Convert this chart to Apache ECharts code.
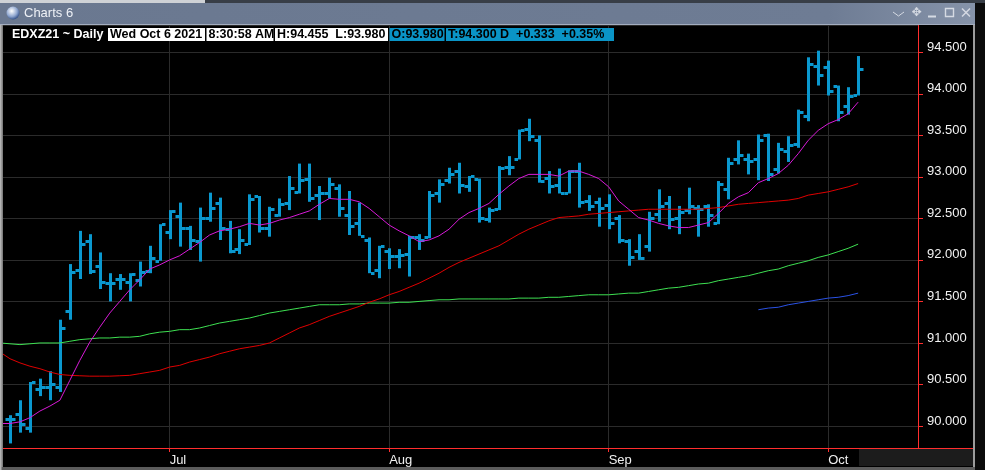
<!DOCTYPE html>
<html><head><meta charset="utf-8">
<script src="https://cdn.jsdelivr.net/npm/echarts@6/dist/echarts.min.js"></script>
<style>html,body{margin:0;padding:0;background:#000;overflow:hidden}#c{width:985px;height:470px}</style>
</head><body><div id="c"></div>
<script>
// ---- data ----
const startDate = '2021-06-09';           // first bar; one bar per weekday through 2021-10-06
const barCount = 86;
const opens = [90.09,90.14,89.97,90.45,90.47,90.47,91.38,91.88,92.23,91.93,
  91.72,91.77,91.73,91.76,91.87,91.99,92.34,92.53,92.39,92.23,
  92.51,92.69,92.37,92.13,92.19,92.77,92.38,92.54,92.69,92.82,
  92.97,92.78,92.80,92.87,92.54,92.45,92.24,91.88,92.11,92.05,
  92.07,92.28,92.27,92.81,92.96,93.07,92.89,92.97,92.49,92.61,
  93.12,93.22,93.58,93.45,92.99,92.90,92.81,93.07,92.71,92.70,
  92.66,92.51,92.23,92.11,92.17,92.55,92.69,92.51,92.60,92.62,
  92.65,92.45,92.86,93.22,93.22,93.22,93.50,93.09,93.31,93.40,
  93.73,94.34,94.32,94.09,93.85,93.98];
const highs = [90.13,90.31,90.53,90.57,90.66,91.28,91.95,92.35,92.31,92.09,
  91.84,91.83,91.84,91.98,92.17,92.43,92.60,92.69,92.41,92.63,
  92.81,92.75,92.47,92.37,92.79,92.77,92.64,92.74,93.01,93.16,
  93.16,92.89,92.99,92.91,92.83,92.69,92.27,92.17,92.14,92.13,
  92.29,92.31,92.83,92.97,93.11,93.17,93.01,92.98,92.63,93.13,
  93.25,93.57,93.70,93.50,93.07,93.10,93.08,93.17,92.78,92.75,
  92.79,92.54,92.25,92.31,92.58,92.85,92.77,92.65,92.87,92.66,
  92.67,92.95,93.23,93.44,93.28,93.51,93.52,93.41,93.49,93.81,
  94.44,94.52,94.40,94.10,94.08,94.455];
const lows = [89.79,89.92,89.92,90.36,90.31,90.41,91.28,91.77,91.83,91.65,
  91.50,91.64,91.50,91.68,91.84,91.99,92.25,92.16,92.12,91.98,
  92.46,92.24,92.08,92.07,92.18,92.33,92.28,92.52,92.60,92.80,
  92.70,92.48,92.74,92.52,92.30,92.29,91.84,91.78,91.89,91.90,
  91.80,92.12,92.26,92.69,92.92,92.80,92.82,92.45,92.45,92.60,
  93.02,93.21,93.43,92.93,92.80,92.80,92.80,92.63,92.59,92.40,
  92.37,92.20,91.93,92.00,92.10,92.46,92.37,92.31,92.55,92.28,
  92.40,92.43,92.73,93.15,93.03,92.96,92.95,93.04,93.18,93.35,
  93.67,94.10,93.98,93.67,93.75,93.98];
const closes = [90.09,90.03,90.53,90.47,90.51,91.18,91.86,92.19,91.87,91.74,
  91.72,91.77,91.83,91.86,92.02,92.43,92.59,92.39,92.24,92.51,
  92.62,92.39,92.11,92.24,92.73,92.38,92.61,92.67,92.87,92.96,
  92.74,92.80,92.91,92.63,92.41,92.29,91.84,92.17,92.05,92.06,
  92.28,92.24,92.78,92.91,93.03,92.90,93.01,92.50,92.60,93.11,
  93.12,93.56,93.49,92.95,92.89,92.81,93.07,92.70,92.65,92.63,
  92.45,92.24,92.04,92.02,92.51,92.65,92.49,92.58,92.65,92.61,
  92.54,92.92,93.17,93.26,93.19,93.45,93.03,93.33,93.38,93.78,
  94.36,94.23,94.03,93.78,93.97,94.30];
// moving-average lines: first value is the point just left of the visible window
const maMagenta = [90.03, 90.03,90.05,90.10,90.18,90.24,90.31,90.55,90.79,91.01,91.19,
  91.36,91.50,91.64,91.76,91.89,91.94,92.00,92.05,92.13,92.21,
  92.30,92.35,92.37,92.40,92.44,92.42,92.44,92.48,92.51,92.55,
  92.59,92.67,92.74,92.73,92.73,92.70,92.62,92.52,92.42,92.35,
  92.29,92.22,92.24,92.29,92.37,92.49,92.57,92.62,92.68,92.79,
  92.89,92.98,93.03,93.03,93.03,93.01,93.07,93.07,93.03,92.98,
  92.88,92.71,92.61,92.51,92.48,92.44,92.41,92.39,92.39,92.42,
  92.45,92.56,92.68,92.76,92.81,92.93,92.98,93.04,93.14,93.28,
  93.44,93.56,93.64,93.69,93.76,93.90];
const maRed = [90.89, 90.81,90.76,90.72,90.69,90.65,90.62,90.61,90.605,90.60,90.60,
  90.60,90.605,90.61,90.63,90.65,90.67,90.71,90.73,90.77,90.80,
  90.83,90.87,90.90,90.93,90.95,90.97,91.00,91.06,91.12,91.18,
  91.22,91.27,91.32,91.36,91.40,91.44,91.49,91.53,91.58,91.62,
  91.67,91.72,91.78,91.84,91.91,91.97,92.02,92.07,92.12,92.17,
  92.24,92.31,92.37,92.42,92.47,92.51,92.52,92.53,92.55,92.56,
  92.57,92.58,92.59,92.60,92.61,92.61,92.61,92.61,92.61,92.61,
  92.62,92.63,92.65,92.67,92.68,92.69,92.70,92.71,92.72,92.74,
  92.78,92.80,92.82,92.85,92.88,92.92];
const maGreen = [91.00, 90.99,90.98,90.99,91.00,91.00,91.00,91.02,91.04,91.05,91.06,
  91.06,91.07,91.07,91.08,91.11,91.13,91.14,91.16,91.16,91.18,
  91.21,91.24,91.26,91.28,91.30,91.33,91.36,91.38,91.40,91.42,
  91.44,91.46,91.46,91.46,91.47,91.47,91.48,91.48,91.48,91.49,
  91.49,91.50,91.51,91.52,91.52,91.53,91.53,91.53,91.53,91.53,
  91.53,91.54,91.54,91.54,91.55,91.55,91.56,91.57,91.58,91.58,
  91.58,91.59,91.60,91.60,91.62,91.64,91.66,91.67,91.69,91.71,
  91.72,91.75,91.77,91.79,91.81,91.84,91.87,91.89,91.93,91.96,
  91.99,92.03,92.06,92.10,92.14,92.19];
const blueStartBar = 75;
const maBlue = [91.40,91.42,91.43,91.46,91.48,91.50,91.52,91.54,91.55,91.57,91.60];
const monthNames = ['Jan','Feb','Mar','Apr','May','Jun','Jul','Aug','Sep','Oct','Nov','Dec'];
const headerSymbol = 'EDXZ21 ~ Daily';
const headerDate = 'Wed Oct 6 2021';
const headerTime = '8:30:58 AM';
const headerHL = 'H:94.455  L:93.980';
const headerO = 'O:93.980';
const headerT = 'T:94.300 D  +0.333  +0.35%';
const padRight = 6;

// ---- build categories ----
const dates = [];
{
  const d = new Date(startDate + 'T00:00:00Z');
  while (dates.length < barCount) {
    const wd = d.getUTCDay();
    if (wd !== 0 && wd !== 6) dates.push(d.toISOString().slice(0, 10));
    d.setUTCDate(d.getUTCDate() + 1);
  }
}
const cats = [''].concat(dates).concat(new Array(padRight).fill(''));
const isMonth = (idx) => idx > 1 && !!cats[idx] && !!cats[idx - 1] && cats[idx].slice(5, 7) !== cats[idx - 1].slice(5, 7);

const ohlcData = dates.map((_, i) => [i + 1, opens[i], highs[i], lows[i], closes[i]]);
const tail = new Array(padRight).fill(null);
const magentaData = maMagenta.concat(tail);
const redData = maRed.concat(tail);
const greenData = maGreen.concat(tail);
const blueData = new Array(blueStartBar + 1).fill(null).concat(maBlue).concat(tail);

const RED = '#ff2e2e';
const BAR = '#0a98cf';
const GRID = '#2b2b2b';
const FONT = '"Liberation Sans", Arial, sans-serif';

function renderOHLC(params, api) {
  const idx = api.value(0);
  const x = Math.round(api.coord([idx, api.value(2)])[0]);
  const yo = Math.round(api.coord([idx, api.value(1)])[1]);
  const yh = api.coord([idx, api.value(2)])[1];
  const yl = api.coord([idx, api.value(3)])[1];
  const yc = Math.round(api.coord([idx, api.value(4)])[1]);
  const st = { fill: BAR };
  return {
    type: 'group',
    children: [
      { type: 'rect', shape: { x: x - 1, y: yh, width: 3, height: Math.max(yl - yh, 1) }, style: st },
      { type: 'rect', shape: { x: x - 4.5, y: yo - 1, width: 3.5, height: 3 }, style: st },
      { type: 'rect', shape: { x: x + 2, y: yc - 1, width: 3.5, height: 3 }, style: st }
    ]
  };
}

const chart = echarts.init(document.getElementById('c'), null, { renderer: 'canvas' });
const lineSeries = (data, color) => ({
  type: 'line', data: data, showSymbol: false, symbol: 'none', silent: true,
  lineStyle: { color: color, width: 1 }, connectNulls: false, z: 4, animation: false
});
const box = (bg, w) => ({ backgroundColor: bg, color: '#000', width: w, padding: [0, 0, 0, 2], fontSize: 12.5, lineHeight: 13, fontFamily: FONT });
chart.setOption({
  backgroundColor: '#000',
  animation: false,
  title: {
    left: 12, top: 28, padding: 0,
    text: `{s|${headerSymbol}}{w1|${headerDate}}{g| }{w2|${headerTime}}{g| }{w3|${headerHL}}{g| }{c1|${headerO}}{g| }{c2|${headerT}}`,
    textStyle: {
      fontSize: 12.5, lineHeight: 13, fontFamily: FONT,
      rich: {
        s: { color: '#ffffff', fontWeight: 'bold', fontSize: 12.5, width: 96, fontFamily: FONT, lineHeight: 13 },
        g: { width: 1.5, fontSize: 12, lineHeight: 13 },
        w1: box('#ffffff', 95),
        w2: box('#ffffff', 65),
        w3: box('#ffffff', 111),
        c1: box('#0a94c6', 53),
        c2: box('#0a94c6', 166)
      }
    }
  },
  grid: { left: -2, right: 67, top: 25, bottom: 22, containLabel: false },
  xAxis: {
    type: 'category', data: cats, boundaryGap: false,
    axisLine: { show: true, lineStyle: { color: RED, width: 1 } },
    axisTick: { show: true, interval: isMonth, length: 4, lineStyle: { color: RED } },
    axisLabel: {
      interval: isMonth, align: 'left', margin: 5, color: '#f0f0f0', fontSize: 13, fontFamily: FONT, lineHeight: 14,
      formatter: (v) => v ? monthNames[parseInt(v.slice(5, 7), 10) - 1] : ''
    },
    splitLine: { show: true, interval: isMonth, lineStyle: { color: GRID, width: 1 } }
  },
  yAxis: {
    type: 'value', position: 'right', min: 89.735, max: 94.829, splitNumber: 10,
    axisLine: { show: true, lineStyle: { color: RED, width: 1 } },
    axisTick: { show: true, length: 5, lineStyle: { color: RED } },
    axisLabel: {
      color: '#f2f2f2', fontSize: 13, fontFamily: FONT, margin: 9,
      showMinLabel: false, showMaxLabel: false,
      verticalAlign: 'bottom', lineHeight: 10,
      formatter: (v) => (Math.abs(v * 2 - Math.round(v * 2)) < 1e-6 ? v.toFixed(3) : '')
    },
    splitLine: { show: true, lineStyle: { color: GRID, width: 1 } }
  },
  series: [
    {
      type: 'custom', renderItem: renderOHLC, data: ohlcData, z: 3, silent: true,
      encode: { x: 0, y: [1, 2, 3, 4] }
    },
    lineSeries(greenData, '#3ee052'),
    lineSeries(redData, '#e00000'),
    lineSeries(blueData, '#2a52e6'),
    lineSeries(magentaData, '#d81ad8')
  ],
  graphic: [
    { type: 'rect', z: 100, shape: { x: 0, y: 0, width: 985, height: 3 }, style: { fill: '#383e47' } },
    { type: 'rect', z: 101, shape: { x: 0, y: 0, width: 205, height: 3 }, style: { fill: '#cfd2d6' } },
    { type: 'rect', z: 100, shape: { x: 0, y: 3, width: 975, height: 22 },
      style: { fill: new echarts.graphic.LinearGradient(0, 0, 1, 0, [
        { offset: 0, color: '#6a7890' }, { offset: 0.85, color: '#6e7c94' }, { offset: 1, color: '#8693a9' }]) } },
    { type: 'rect', z: 101, shape: { x: 0, y: 24, width: 975, height: 1 }, style: { fill: '#a3adbf' } },
    { type: 'circle', z: 101, shape: { cx: 13, cy: 13, r: 6.5 },
      style: { fill: new echarts.graphic.RadialGradient(0.4, 0.35, 0.7, [
        { offset: 0, color: '#ffffff' }, { offset: 0.6, color: '#8fa6cf' }, { offset: 1, color: '#27457f' }]) } },
    { type: 'text', z: 101, x: 24, y: 13, style: { text: 'Charts 6', fill: '#eef1f6', font: '13px "Liberation Sans", Arial, sans-serif', verticalAlign: 'middle' } },
    { type: 'polyline', z: 101, shape: { points: [[893, 12], [898.5, 16], [904, 12]] }, style: { stroke: '#d5dae3', fill: null, lineWidth: 1 } },
    { type: 'text', z: 101, x: 916.5, y: 13, style: { text: '✥', fill: '#d5dae3', font: '12px "DejaVu Sans", sans-serif', align: 'center', verticalAlign: 'middle' } },
    { type: 'rect', z: 101, shape: { x: 928, y: 15.5, width: 8, height: 2 }, style: { fill: '#d5dae3' } },
    { type: 'rect', z: 101, shape: { x: 945.5, y: 8.5, width: 8, height: 8 }, style: { stroke: '#d5dae3', fill: null, lineWidth: 1.4 } },
    { type: 'line', z: 101, shape: { x1: 962, y1: 8.5, x2: 970, y2: 16.5 }, style: { stroke: '#d5dae3', lineWidth: 1.4 } },
    { type: 'line', z: 101, shape: { x1: 970, y1: 8.5, x2: 962, y2: 16.5 }, style: { stroke: '#d5dae3', lineWidth: 1.4 } },
    { type: 'rect', z: 100, shape: { x: 975, y: 3, width: 10, height: 467 }, style: { fill: '#0b0b0b' } },
    { type: 'rect', z: 100, shape: { x: 973, y: 25, width: 2, height: 442 }, style: { fill: '#9c9c9c' } },
    { type: 'rect', z: 100, shape: { x: 0, y: 25, width: 3, height: 445 }, style: { fill: '#7e7e7e' } },
    { type: 'rect', z: 101, shape: { x: 0, y: 25, width: 1.5, height: 445 }, style: { fill: '#b4b4b4' } },
    { type: 'rect', z: 100, shape: { x: 0, y: 467, width: 975, height: 3 }, style: { fill: '#5c5c5c' } },
    { type: 'rect', z: 100, shape: { x: 859, y: 449, width: 114, height: 17 }, style: { fill: '#1c1c1c' } },
    { type: 'line', z: 100, shape: { x1: 918, y1: 448.5, x2: 973, y2: 448.5 }, style: { stroke: RED, lineWidth: 1 } }
  ]
});
</script></body></html>
